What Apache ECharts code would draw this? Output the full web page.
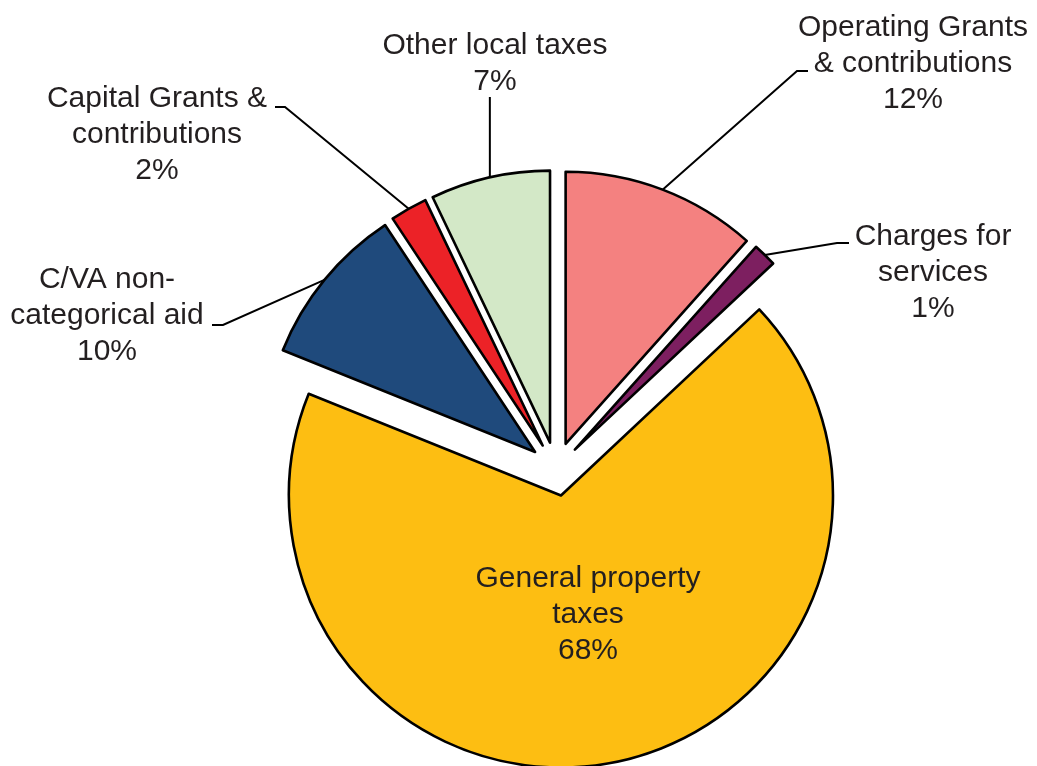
<!DOCTYPE html>
<html>
<head>
<meta charset="utf-8">
<script src="https://cdn.jsdelivr.net/npm/echarts@6/dist/echarts.min.js"></script>
<style>
  html, body { margin: 0; padding: 0; background: #fff; }
  #chart { width: 1037px; height: 766px; }
</style>
</head>
<body>
<div id="chart"></div>
<script>
// ---- data ----
const categories = [
  'Operating Grants\n& contributions',
  'Charges for\nservices',
  'General property\ntaxes',
  'C/VA non-\ncategorical aid',
  'Capital Grants &\ncontributions',
  'Other local taxes'
];
const shares = [11.6, 1.4, 68.1, 9.6, 2.2, 7.1];
const colors = ['#F48180', '#7D1F60', '#FDBE12', '#1F4A7C', '#EC2227', '#D3E8C7'];

// ---- layout (positions, not data) ----
const CENTER = [556, 469];
const RADIUS = 272;
const EXPLODE = 27;
const LABEL_POS = [[913, 64], [933, 273], [588, 615], [107, 316], [157, 135], [495, 64]];
// leader line end point [x, y, horizontal tail] ; null = no line ; tail 0 = vertical
const LINE_END = [[808, 71, -11], [849, 243, -12], null, [212, 325, 11], [275, 107, 10], [null, 97, 0]];

const total = shares.reduce((a, b) => a + b, 0);
let cum = 0;
const series = shares.map((v, i) => {
  const mid = (cum + v / 2) / total * 2 * Math.PI;
  cum += v;
  const cx = CENTER[0] + EXPLODE * Math.sin(mid);
  const cy = CENTER[1] - EXPLODE * Math.cos(mid);
  return {
    type: 'pie',
    center: [cx, cy],
    radius: RADIUS,
    startAngle: 90,
    clockwise: true,
    avoidLabelOverlap: false,
    silent: true,
    animation: false,
    emphasis: { disabled: true },
    data: shares.map((w, j) => ({
      name: categories[j],
      value: w,
      itemStyle: j === i
        ? { color: colors[j], borderColor: '#000', borderWidth: 2.6 }
        : { color: 'rgba(0,0,0,0)', borderWidth: 0 },
      label: { show: j === i },
      labelLine: { show: j === i && LINE_END[j] !== null }
    })),
    label: {
      position: 'outside',
      formatter: p => p.name + '\n' + Math.round(p.percent) + '%',
      fontSize: 30,
      lineHeight: 36,
      fontFamily: '"Liberation Sans", Arial, sans-serif',
      color: '#231F20'
    },
    labelLine: { length: 10, length2: 10, lineStyle: { color: '#000', width: 2 } },
    labelLayout: function (params) {
      const j = params.dataIndex;
      const pos = LABEL_POS[j];
      const out = { x: pos[0], y: pos[1], align: 'center', verticalAlign: 'middle' };
      const e = LINE_END[j];
      if (e && params.labelLinePoints) {
        const s = params.labelLinePoints[0];
        if (e[2] === 0) {
          out.labelLinePoints = [[s[0], s[1]], [s[0], e[1]], [s[0], e[1]]];
        } else {
          out.labelLinePoints = [[s[0], s[1]], [e[0] + e[2], e[1]], [e[0], e[1]]];
        }
      }
      return out;
    }
  };
});

const chart = echarts.init(document.getElementById('chart'), null, { renderer: 'canvas' });
chart.setOption({
  backgroundColor: '#fff',
  animation: false,
  series: series
});
</script>
</body>
</html>
